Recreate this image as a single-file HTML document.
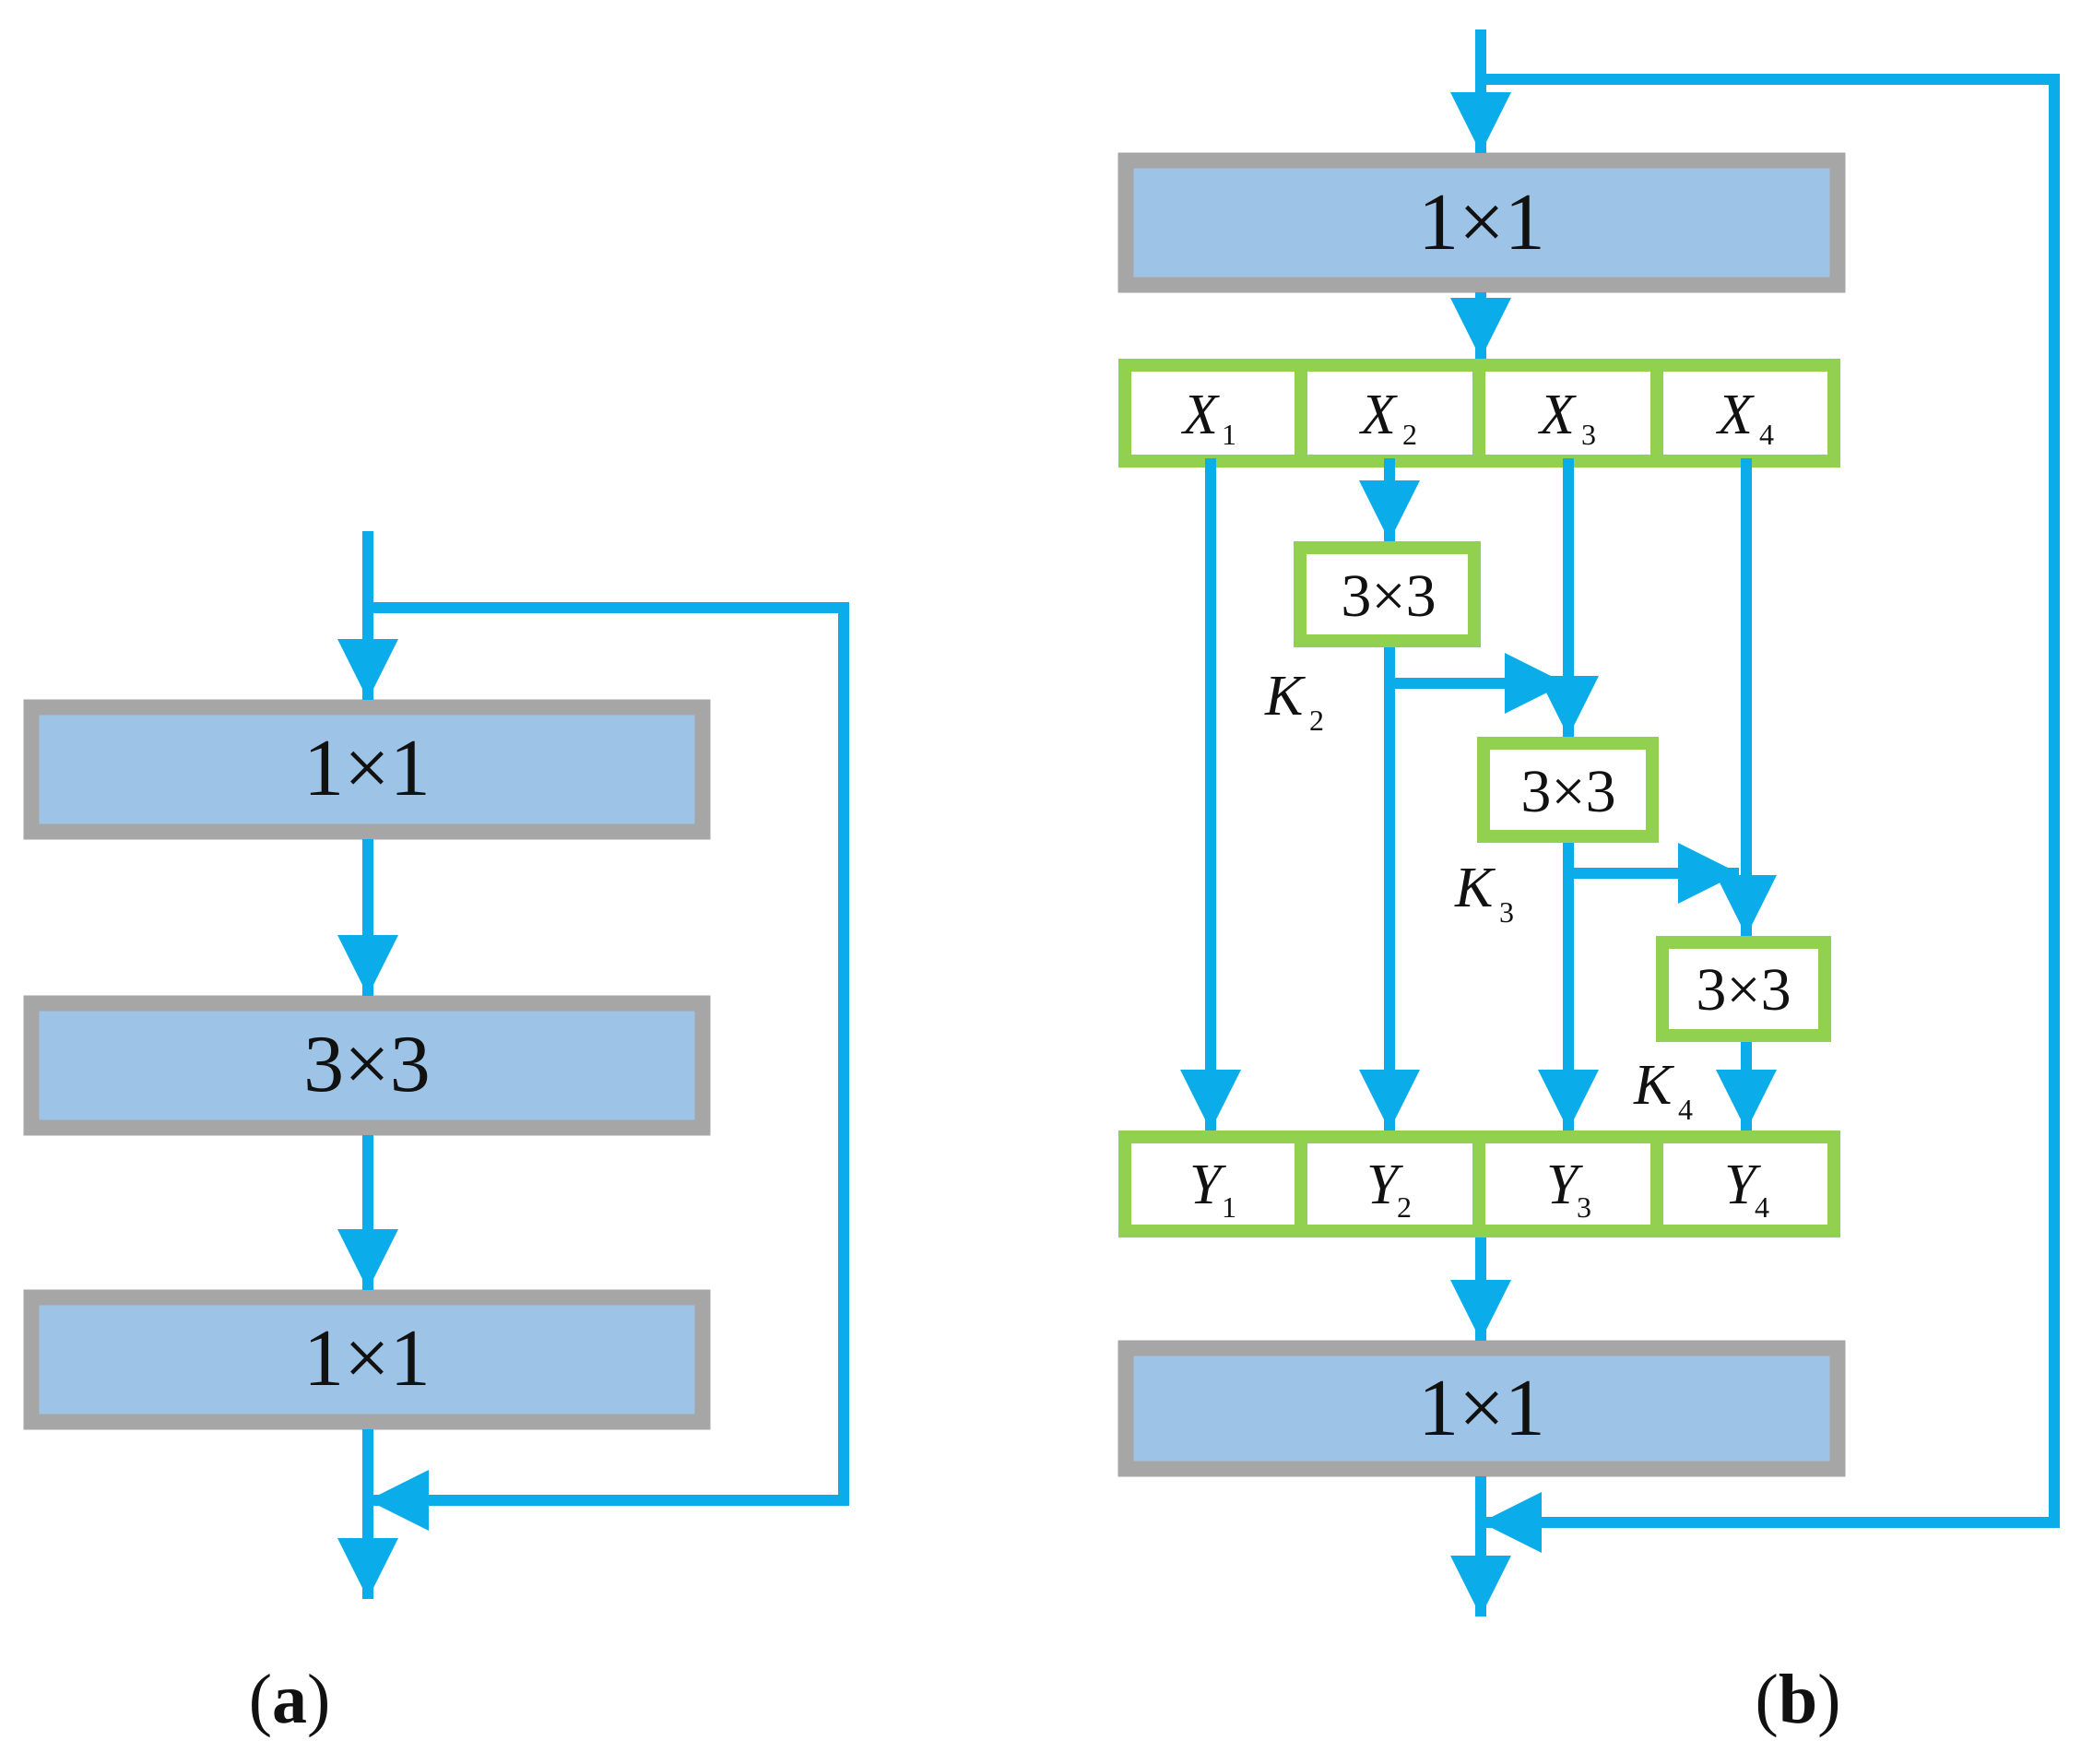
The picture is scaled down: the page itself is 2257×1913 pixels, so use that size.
<!DOCTYPE html>
<html><head><meta charset="utf-8"><style>
html,body{margin:0;padding:0;background:#fff;}
svg{display:block}
text{font-family:"Liberation Serif",serif;fill:#111}
</style></head><body>
<svg width="2257" height="1913" viewBox="0 0 2257 1913" xmlns="http://www.w3.org/2000/svg">
<defs>
<marker id="ah" viewBox="0 0 10 10" refX="10" refY="5" markerWidth="5.5" markerHeight="5.5" markerUnits="strokeWidth" orient="auto"><path d="M0,0 L10,5 L0,10 z" fill="#0bacea"/></marker>
</defs>
<g fill="#9dc3e6" stroke="#a6a6a6" stroke-width="17">
<rect x="34" y="767" width="728" height="135"/>
<rect x="34" y="1088" width="728" height="135"/>
<rect x="34" y="1407" width="728" height="135"/>
<rect x="1221" y="174" width="772" height="135"/>
<rect x="1221" y="1462" width="772" height="131"/>
</g>
<g fill="#fff" stroke="#92d050" stroke-width="14">
<rect x="1220" y="396" width="769" height="104"/>
<line x1="1411" y1="396" x2="1411" y2="500"/>
<line x1="1604" y1="396" x2="1604" y2="500"/>
<line x1="1797" y1="396" x2="1797" y2="500"/>
<rect x="1220" y="1233" width="769" height="102"/>
<line x1="1411" y1="1233" x2="1411" y2="1335"/>
<line x1="1604" y1="1233" x2="1604" y2="1335"/>
<line x1="1797" y1="1233" x2="1797" y2="1335"/>
<rect x="1410" y="594" width="189" height="101"/>
<rect x="1609" y="806" width="183" height="101"/>
<rect x="1803" y="1022" width="176" height="101"/>
</g>
<g stroke="#0bacea" stroke-width="12" fill="none" stroke-linecap="butt">
<polyline points="399,576 399,759" marker-end="url(#ah)"/>
<polyline points="399,659 915,659 915,1627 399,1627" marker-end="url(#ah)"/>
<polyline points="399,910 399,1080" marker-end="url(#ah)"/>
<polyline points="399,1231 399,1399" marker-end="url(#ah)"/>
<polyline points="399,1550 399,1734" marker-end="url(#ah)"/>
<polyline points="1606,32 1606,166" marker-end="url(#ah)"/>
<polyline points="1606,86 2228,86 2228,1651 1606,1651" marker-end="url(#ah)"/>
<polyline points="1606,317 1606,389" marker-end="url(#ah)"/>
<polyline points="1313,497 1313,1226" marker-end="url(#ah)"/>
<polyline points="1507,497 1507,587" marker-end="url(#ah)"/>
<polyline points="1507,702 1507,1226" marker-end="url(#ah)"/>
<polyline points="1507,741 1698,741" marker-end="url(#ah)"/>
<polyline points="1701,497 1701,799" marker-end="url(#ah)"/>
<polyline points="1701,914 1701,1226" marker-end="url(#ah)"/>
<polyline points="1701,947 1886,947" marker-end="url(#ah)"/>
<polyline points="1894,497 1894,1015" marker-end="url(#ah)"/>
<polyline points="1894,1130 1894,1226" marker-end="url(#ah)"/>
<polyline points="1606,1342 1606,1454" marker-end="url(#ah)"/>
<polyline points="1606,1601 1606,1753" marker-end="url(#ah)"/>
</g>
<g font-size="88" text-anchor="middle">
<text x="398" y="862">1×1</text>
<text x="398" y="1183">3×3</text>
<text x="398" y="1502">1×1</text>
<text x="1607" y="270">1×1</text>
<text x="1607" y="1556">1×1</text>
</g>
<g font-size="66" text-anchor="middle">
<text x="1506" y="668">3×3</text>
<text x="1701" y="880">3×3</text>
<text x="1891" y="1095">3×3</text>
</g>
<g font-size="62" font-style="italic">
<text x="1283" y="470">X</text><text x="1325" y="482" font-size="32" font-style="normal">1</text>
<text x="1476" y="470">X</text><text x="1521" y="482" font-size="32" font-style="normal">2</text>
<text x="1670" y="470">X</text><text x="1715" y="482" font-size="32" font-style="normal">3</text>
<text x="1863" y="470">X</text><text x="1908" y="482" font-size="32" font-style="normal">4</text>
<text x="1290" y="1305">Y</text><text x="1325" y="1320" font-size="32" font-style="normal">1</text>
<text x="1482" y="1305">Y</text><text x="1515" y="1320" font-size="32" font-style="normal">2</text>
<text x="1677" y="1305">Y</text><text x="1710" y="1320" font-size="32" font-style="normal">3</text>
<text x="1870" y="1305">Y</text><text x="1903" y="1320" font-size="32" font-style="normal">4</text>
<text x="1372" y="775">K</text><text x="1420" y="792" font-size="32" font-style="normal">2</text>
<text x="1578" y="983">K</text><text x="1626" y="1000" font-size="32" font-style="normal">3</text>
<text x="1772" y="1197">K</text><text x="1820" y="1214" font-size="32" font-style="normal">4</text>
</g>
<text x="314" y="1868" font-size="76" text-anchor="middle">(<tspan font-weight="bold">a</tspan>)</text>
<text x="1950" y="1868" font-size="76" text-anchor="middle">(<tspan font-weight="bold">b</tspan>)</text>
</svg>
</body></html>
